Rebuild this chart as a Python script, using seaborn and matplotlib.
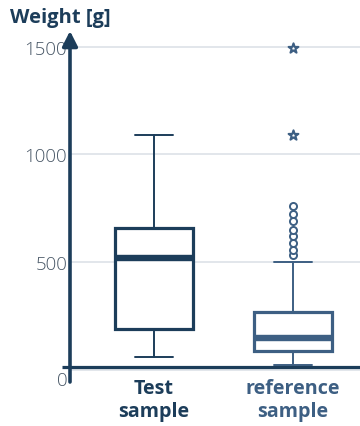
import matplotlib
matplotlib.use("Agg")
import matplotlib.pyplot as plt
import matplotlib.transforms as mtransforms
import seaborn as sns

# Box statistics per sample (grams)
groups = ["Test\nsample", "reference\nsample"]
whisker_low = [60, 22]
q1 = [190, 85]
median = [518, 145]
q3 = [660, 269]
whisker_high = [1090, 498]
mild_outliers = [[], [534, 556, 587, 622, 650, 689, 723, 762]]
extreme_outliers = [[], [1090, 1495]]

ytick_values = [0, 500, 1000, 1500]
ytick_labels = ["0", "500", "1000", "1500"]

navy = "#1c3d5a"
steel = "#3d5f83"
colors = [navy, steel]

sns.set_theme(style="whitegrid")
plt.rcParams["font.family"] = ["Open Sans", "DejaVu Sans"]

fig = plt.figure(figsize=(3.6, 4.27), dpi=100)
ax = fig.add_axes([70 / 360, 1 - 383 / 427, 290 / 360, (383 - 32) / 427])
ax.set_facecolor("white")

positions = list(range(len(groups)))
for i, c in enumerate(colors):
    stats = [dict(med=median[i], q1=q1[i], q3=q3[i],
                  whislo=whisker_low[i], whishi=whisker_high[i], fliers=[])]
    ax.bxp(stats, positions=[positions[i]], widths=0.56, showfliers=False,
           patch_artist=True,
           boxprops=dict(facecolor="white", edgecolor=c, linewidth=2.3),
           medianprops=dict(color=c, linewidth=4.6, solid_capstyle="butt"),
           whiskerprops=dict(color=c, linewidth=1.4),
           capprops=dict(color=c, linewidth=1.4),
           capwidths=0.27, zorder=3)

for i, c in enumerate(colors):
    if mild_outliers[i]:
        sns.scatterplot(x=[positions[i]] * len(mild_outliers[i]), y=mild_outliers[i],
                        ax=ax, marker="o", s=26, facecolor="white",
                        edgecolor=c, linewidth=1.4, zorder=4, legend=False)
    if extreme_outliers[i]:
        sns.scatterplot(x=[positions[i]] * len(extreme_outliers[i]), y=extreme_outliers[i],
                        ax=ax, marker="*", s=55, facecolor="white",
                        edgecolor=c, linewidth=1.5, zorder=4, legend=False)

ax.set_xlim(-0.604, 1.482)
ax.set_ylim(-58, 1574)
ax.set_xticks(positions)
ax.set_xticklabels(groups, fontsize=14.2, fontweight="bold", linespacing=1.2)
for lbl, c in zip(ax.get_xticklabels(), colors):
    lbl.set_color(c)
ax.tick_params(axis="x", length=0, pad=-3)

ax.set_yticks(ytick_values)
ax.set_yticklabels(ytick_labels, fontsize=13.5, color="#485766")
ax.tick_params(axis="y", length=0, pad=2)
for lbl, v in zip(ax.get_yticklabels(), ytick_values):
    lbl.set_fontweight("light")
    if v == 0:
        lbl.set_transform(lbl.get_transform() +
                          mtransforms.ScaledTranslation(0, -8 / 100, fig.dpi_scale_trans))

ax.grid(axis="x", visible=False)
ax.grid(axis="y", color="#dde2e7", linewidth=1.2)
for s in ax.spines.values():
    s.set_visible(False)

# x axis line, overhanging slightly to the left of the y axis
ax.plot([-0.662, 1.482], [12, 12], color=navy, linewidth=2.3,
        solid_capstyle="butt", clip_on=False, zorder=5)
# y axis with arrow head
ax.annotate("", xy=(0, 1.0), xytext=(0, 0.0), xycoords="axes fraction",
            arrowprops=dict(arrowstyle="-|>,head_length=0.75,head_width=0.38",
                            color=navy, linewidth=2.6, shrinkA=0, shrinkB=0),
            zorder=6, annotation_clip=False)

fig.text(10 / 360, 1 - 18 / 427, "Weight [g]", fontsize=14.5, fontweight="bold",
         color=navy, ha="left", va="center")

fig.savefig("out.png", dpi=100)
